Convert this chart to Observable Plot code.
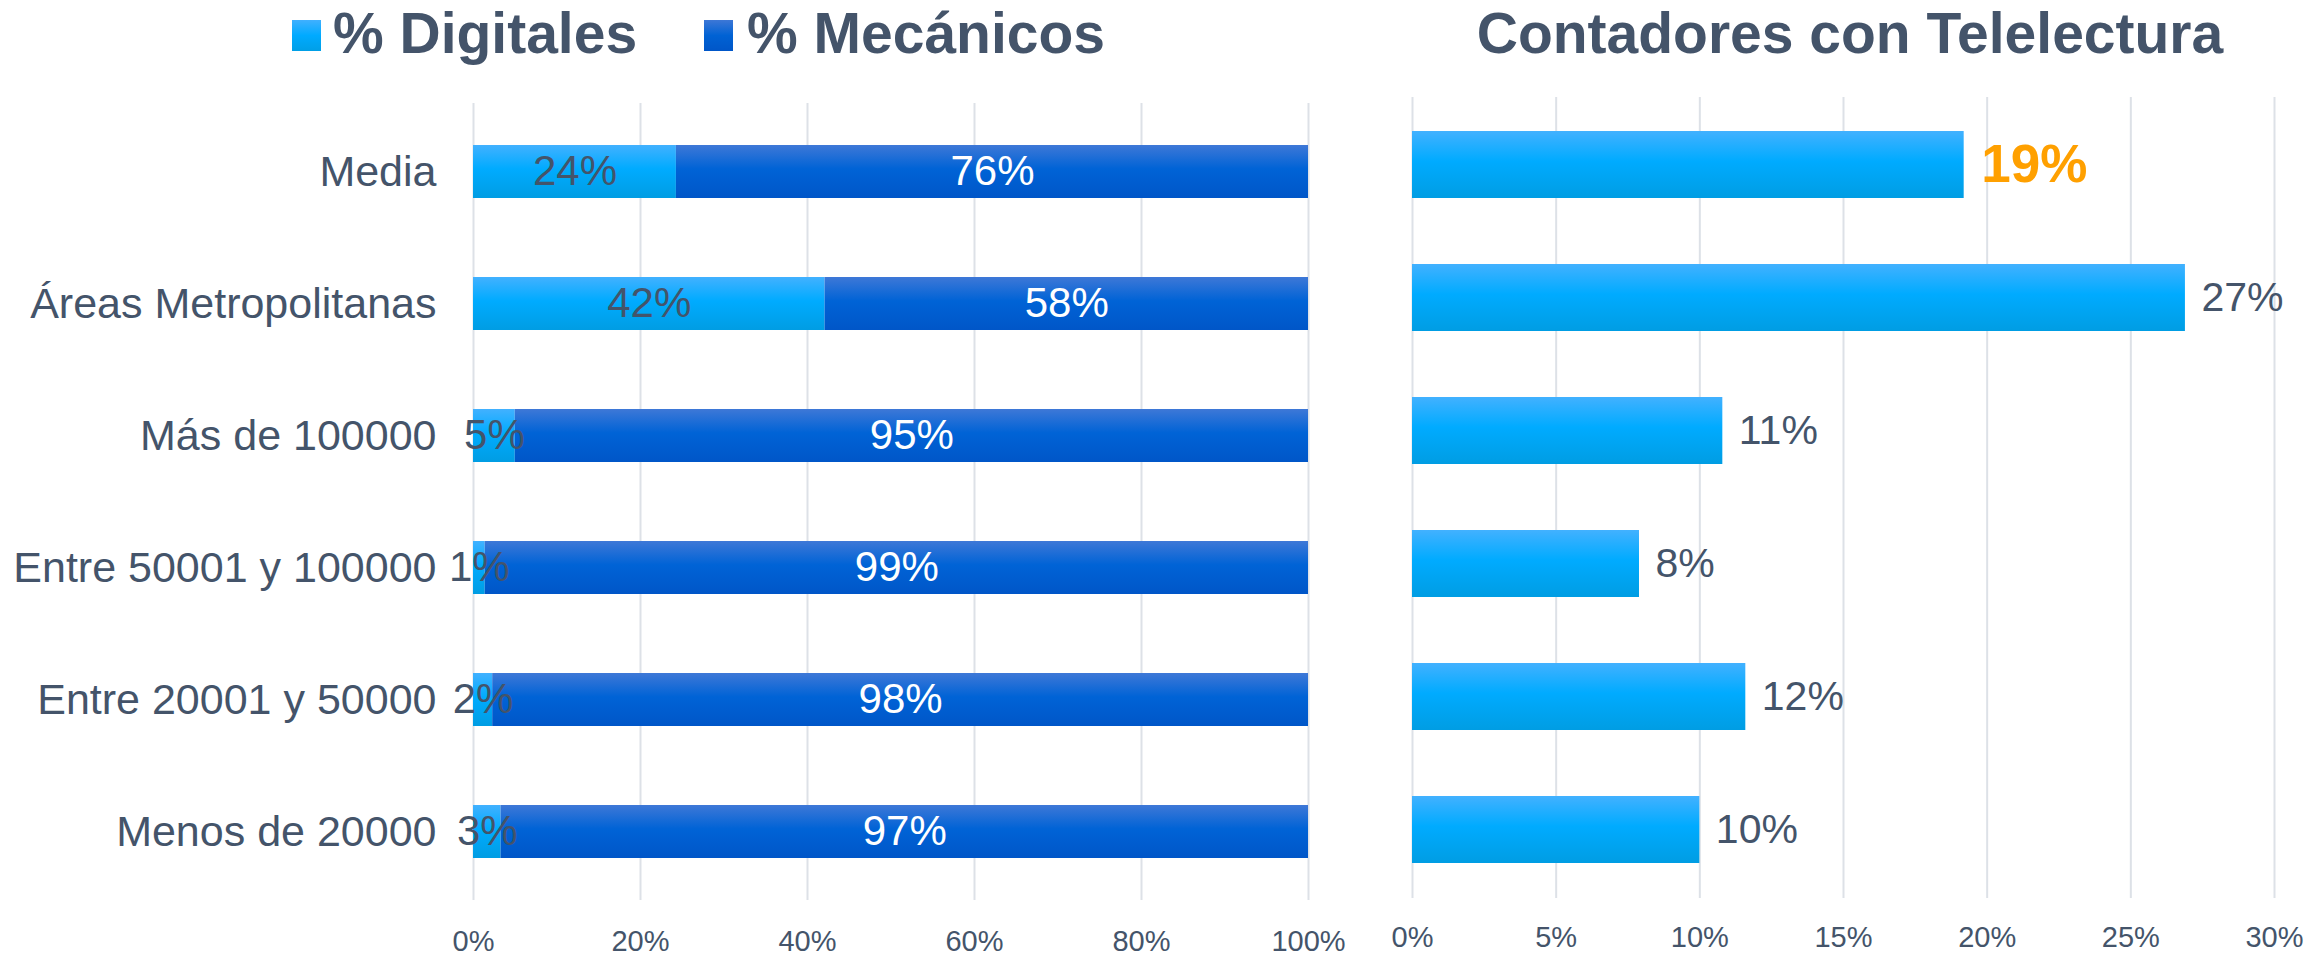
<!DOCTYPE html>
<html><head><meta charset="utf-8">
<script src="https://cdn.jsdelivr.net/npm/d3@7"></script>
<script src="https://cdn.jsdelivr.net/npm/@observablehq/plot@0.6"></script>
<style>
body{margin:0;background:#fff;}
#wrap{position:relative;width:2320px;height:956px;overflow:hidden;font-family:"Liberation Sans",Arial,sans-serif;color:#44546A;background:#fff;}
.abs{position:absolute;}
.lt{font-weight:bold;font-size:57px;line-height:57px;white-space:nowrap;}
.sw{width:29px;height:31px;}
</style></head><body><div id="wrap">
<div class="abs sw" style="left:292px;top:20px;background:linear-gradient(#40B0FF,#00AAFF 50%,#009FE6);"></div>
<div class="abs lt" style="left:333px;top:5px;" id="l1"></div>
<div class="abs sw" style="left:704px;top:20px;background:linear-gradient(#3D77D6,#0062D4 50%,#0056C8);"></div>
<div class="abs lt" style="left:747px;top:5px;" id="l2"></div>
<div class="abs lt" style="left:1850px;top:5px;transform:translateX(-50%);" id="title"></div>
</div>
<script>
const categories = ["Media","Áreas Metropolitanas","Más de 100000","Entre 50001 y 100000","Entre 20001 y 50000","Menos de 20000"];
const series = ["% Digitales","% Mecánicos"];
const digitales = [0.243,0.421,0.050,0.014,0.023,0.033];
const mecanicos = [0.757,0.579,0.950,0.986,0.977,0.967];
const telelectura = [0.192,0.269,0.108,0.079,0.116,0.100];
const titleRight = "Contadores con Telelectura";
const ticksLeft = [0,0.2,0.4,0.6,0.8,1];
const ticksRight = [0,0.05,0.1,0.15,0.2,0.25,0.3];

document.getElementById("l1").textContent = series[0];
document.getElementById("l2").textContent = series[1];
document.getElementById("title").textContent = titleRight;

const pct = d3.format(".0%");
const FONT = '"Liberation Sans", Arial, sans-serif';
const TXT = "#44546A";
const GRID = "#DDE1E7";

const stacked = [];
categories.forEach((c,i)=>{
  stacked.push({cat:c, serie:series[0], value:digitales[i]});
  stacked.push({cat:c, serie:series[1], value:mecanicos[i]});
});
const tele = categories.map((c,i)=>({cat:c, value:telelectura[i]}));

function addGradients(svg){
  const defs = d3.select(svg).insert("defs", ":first-child");
  const mk = (id, stops) => {
    const g = defs.append("linearGradient").attr("id", id).attr("x1",0).attr("y1",0).attr("x2",0).attr("y2",1);
    stops.forEach(([o,c])=>g.append("stop").attr("offset",o).attr("stop-color",c));
  };
  mk("gDig", [["0%","#42B1FF"],["45%","#00ABFF"],["100%","#009DE3"]]);
  mk("gMec", [["0%","#3E78D7"],["45%","#0063D6"],["100%","#0056C8"]]);
}

const left = Plot.plot({
  width: 1400, height: 956,
  marginLeft: 473, marginRight: 92, marginTop: 103, marginBottom: 56,
  style: {fontFamily: FONT, color: TXT, background: "transparent", overflow: "visible"},
  x: {domain: [0,1]},
  y: {domain: categories, paddingInner: 0.6, paddingOuter: 0.3},
  color: {domain: series, range: ["url(#gDig)","url(#gMec)"]},
  marks: [
    Plot.ruleX(ticksLeft, {stroke: GRID, strokeWidth: 2}),
    Plot.barX(stacked, Plot.stackX({x: "value", y: "cat", fill: "serie", order: null})),
    Plot.text(stacked, Plot.stackX({x: "value", y: "cat", order: null,
      text: d => d.serie === series[0] ? pct(d.value) : null,
      fill: TXT, fontSize: 42})),
    Plot.text(stacked, Plot.stackX({x: "value", y: "cat", order: null,
      text: d => d.serie === series[1] ? pct(d.value) : null,
      fill: "white", fontSize: 42})),
    Plot.axisX(ticksLeft, {tickSize: 0, tickPadding: 30, tickFormat: pct, fontSize: 29, fill: TXT, label: null}),
    Plot.axisY({tickSize: 0, tickPadding: 37, fontSize: 43, fill: TXT, label: null})
  ]
});
addGradients(left);
left.style.position = "absolute"; left.style.left = "0px"; left.style.top = "0px";
document.getElementById("wrap").appendChild(left);

const right = Plot.plot({
  width: 920, height: 956,
  marginLeft: 12, marginRight: 46, marginTop: 97, marginBottom: 58,
  style: {fontFamily: FONT, color: TXT, background: "transparent", overflow: "visible"},
  x: {domain: [0,0.3]},
  y: {domain: categories, paddingInner: 0.495, paddingOuter: 0.24, axis: null},
  marks: [
    Plot.ruleX(ticksRight, {stroke: GRID, strokeWidth: 2}),
    Plot.barX(tele, {x: "value", y: "cat", fill: "url(#gDig)"}),
    Plot.text(tele, {x: "value", y: "cat", text: d => d.cat === categories[0] ? pct(d.value) : null,
      textAnchor: "start", dx: 17, fill: "#FFA000", fontSize: 53, fontWeight: "bold"}),
    Plot.text(tele, {x: "value", y: "cat", text: d => d.cat !== categories[0] ? pct(d.value) : null,
      textAnchor: "start", dx: 16, fill: TXT, fontSize: 41}),
    Plot.axisX(ticksRight, {tickSize: 0, tickPadding: 28, tickFormat: pct, fontSize: 29, fill: TXT, label: null})
  ]
});
addGradients(right);
right.style.position = "absolute"; right.style.left = "1400px"; right.style.top = "0px";
document.getElementById("wrap").appendChild(right);
</script>
</body></html>
